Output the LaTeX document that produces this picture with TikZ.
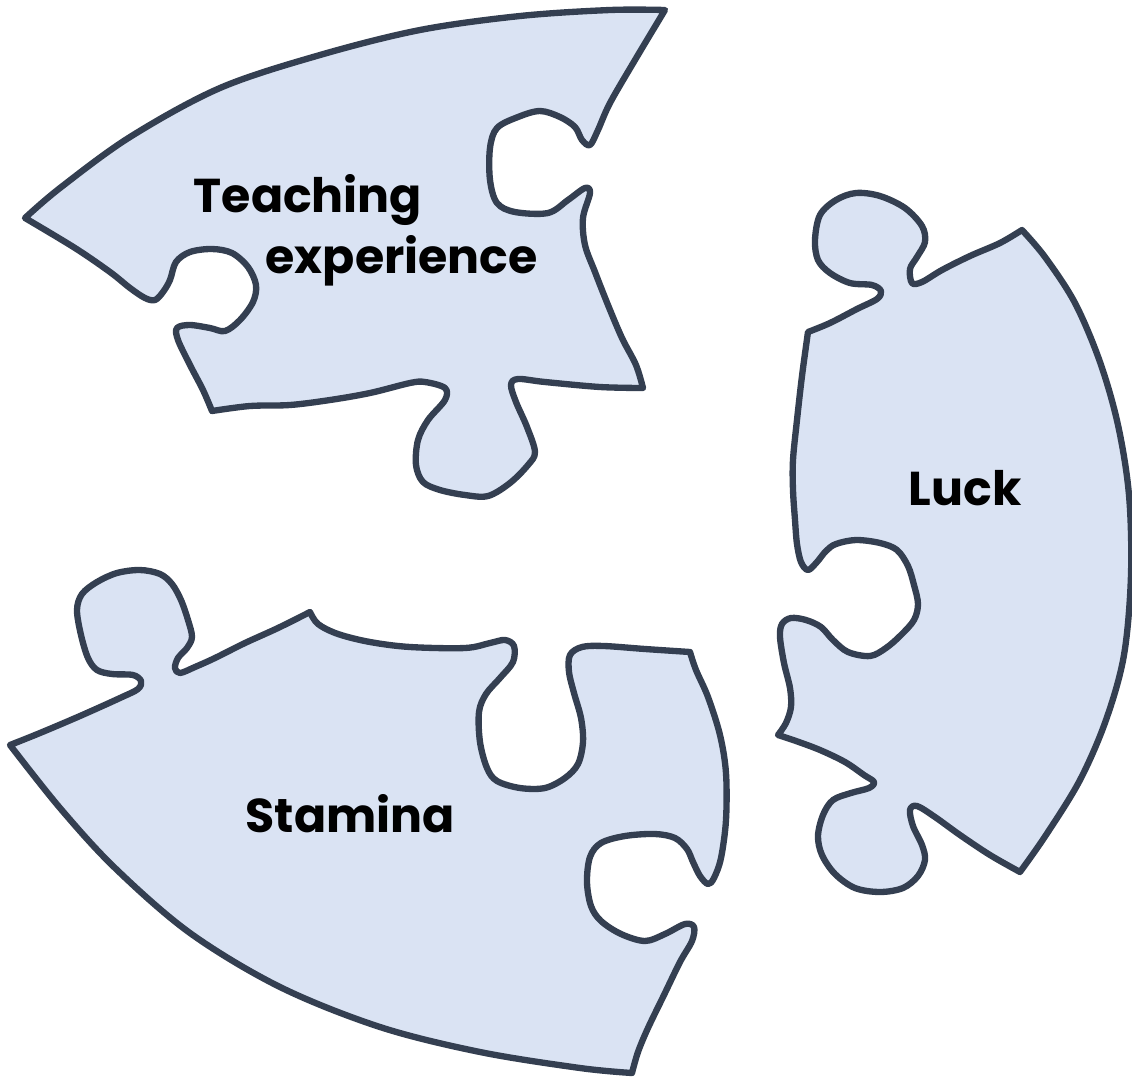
\documentclass[tikz,border=0pt]{standalone}
\usepackage{fontspec}
\setmainfont{Poppins}
\usepackage{tikz}
\definecolor{pzfill}{HTML}{DAE3F3}
\definecolor{pzline}{HTML}{343F51}

\begin{document}
\begin{tikzpicture}[x=0.01cm, y=-0.01cm, line cap=round, line join=round,
  piece/.style={fill=pzfill, draw=pzline, line width=1.8pt},
  word/.style={anchor=base west, inner sep=0pt,
    font=\fontsize{13.5}{16}\selectfont\bfseries}]
  \useasboundingbox (0,0) rectangle (1132,1078);
  % outlines traced in pixel units of the 1132 x 1078 frame
  \draw[piece]
    plot[smooth, tension=0.55] coordinates {(25,218) (60,188) (130,137)
      (220,88) (320,55) (420,30) (520,16) (610,10) (665,10)}
    -- plot[smooth, tension=0.55] coordinates {(665,10) (635,60) (610,103)
      (598,130) (590,145) (582,140) (575,127) (560,117) (540,111) (518,117)
      (497,128) (490,148) (490,180) (497,203) (515,212) (548,213) (568,200)
      (585,188) (590,193) (583,218) (585,245) (595,272) (608,305) (622,338)
      (636,365) (643,388)}
    -- plot[smooth, tension=0.55] coordinates {(643,388) (600,387)
      (545,382) (518,379) (511,385) (516,402) (527,427) (535,452) (528,465)
      (510,483) (488,496) (465,495) (440,490) (423,482) (416,465) (418,440)
      (428,420) (445,400) (445,388) (425,382) (410,383) (370,393) (330,400)
      (290,405) (250,406) (212,411)}
    -- plot[smooth, tension=0.55] coordinates {(212,411) (203,390)
      (190,365) (178,340) (177,328) (190,325) (210,328) (225,331) (240,320)
      (253,302) (256,285) (248,267) (232,253) (212,249) (190,252) (176,262)
      (170,280) (163,292) (155,300) (145,298) (130,288) (110,272) (75,248)
      (25,218)} -- cycle;
  \draw[piece]
    plot[smooth, tension=0.55] coordinates {(10,745) (40,733) (80,716)
      (120,698) (138,689) (141,681) (133,675) (112,674) (97,670) (88,658)
      (81,635) (77,610) (82,594) (97,582) (117,573) (140,570) (160,574)
      (172,584) (181,600) (188,620) (192,637) (187,648) (178,658) (175,668)
      (180,673) (195,667) (215,658) (245,643) (278,628) (310,612)}
    -- plot[smooth, tension=0.55] coordinates {(310,612) (318,624)
      (338,634) (370,642) (410,647) (465,648) (490,643) (505,640) (514,646)
      (513,662) (500,678) (486,694) (479,712) (480,742) (487,768) (497,781)
      (520,788) (545,788) (565,778) (578,764) (583,742) (581,718) (574,693)
      (569,672) (570,655) (582,647) (604,646) (645,649) (690,652)}
    -- plot[smooth, tension=0.55] coordinates {(690,652) (696,670)
      (708,697) (720,735) (726,773) (726,820) (721,858) (714,878) (708,884)
      (700,876) (693,862) (687,849) (675,838) (655,834) (625,836) (601,843)
      (590,857) (587,882) (591,906) (601,921) (621,934) (645,941) (665,934)
      (685,924) (694,927) (692,941) (680,962) (664,995) (648,1028)
      (638,1052) (632,1073)}
    -- plot[smooth, tension=0.55] coordinates {(632,1073) (580,1068)
      (480,1052) (380,1027) (280,987) (190,933) (115,868) (60,808)
      (10,745)} -- cycle;
  \draw[piece]
    plot[smooth, tension=0.55] coordinates {(808,332) (830,323) (857,309)
      (877,299) (881,291) (872,285) (850,283) (830,273) (818,260) (815,240)
      (820,215) (836,200) (856,193) (880,196) (905,208) (922,226) (925,242)
      (917,257) (910,269) (912,283) (922,282) (942,270) (970,256) (1000,243)
      (1022,230)}
    -- plot[smooth, tension=0.55] coordinates {(1022,230) (1045,257)
      (1075,303) (1100,362) (1118,425) (1129,495) (1131,575) (1124,655)
      (1106,720) (1080,780) (1046,835) (1020,872)}
    -- plot[smooth, tension=0.55] coordinates {(1020,872) (990,855)
      (960,835) (935,817) (917,806) (910,810) (913,826) (922,845) (925,860)
      (918,876) (903,888) (880,892) (855,888) (835,874) (822,855) (818,836)
      (823,815) (833,800) (851,793) (869,788) (874,782) (864,775) (845,762)
      (820,750) (796,741) (778,735)}
    -- plot[smooth, tension=0.55] coordinates {(778,735) (786,723)
      (791,707) (790,688) (784,663) (780,637) (782,624) (791,618) (806,620)
      (821,627) (833,640) (848,652) (870,656) (886,648) (901,635) (914,620)
      (918,604) (914,585) (908,566) (897,550) (880,543) (856,540) (836,544)
      (826,551) (817,562) (808,570) (801,562) (797,544) (795,520) (793,490)
      (793,460) (797,420) (802,376) (808,332)} -- cycle;
  \node[word] (teaching) at (193,212) {Teaching};
  \node[word] (experience) at (265,273) {experience};
  \node[word] (luck) at (908,505) {Luck};
  \node[word] (stamina) at (245,832) {Stamina};
\end{tikzpicture}
\end{document}
